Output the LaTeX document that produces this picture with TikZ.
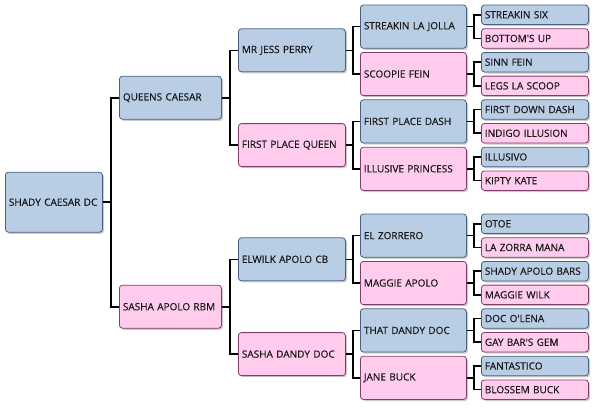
\documentclass[tikz,border=0pt]{standalone}
\usepackage{fontspec}
\setmainfont{Open Sans}
\newfontfamily\boxfont{Open Sans}[BoldFont={Open Sans},BoldFeatures={FakeBold=0.5}]
\usetikzlibrary{shadows}
\definecolor{bfill}{HTML}{B9CDE5}
\definecolor{bdraw}{HTML}{4A6080}
\definecolor{pfill}{HTML}{FFCCEE}
\definecolor{pdraw}{HTML}{7E3F6C}
\tikzset{
  box/.style={rounded corners=3pt, line width=0.8pt, inner xsep=3.5pt, inner ysep=0pt,
    align=left, font=\boxfont\bfseries\fontsize{10}{11}\selectfont, anchor=west, text=black!90,
    drop shadow={shadow xshift=1.6pt, shadow yshift=-1.6pt, fill=black!45, opacity=0.45}},
  bluebox/.style={box, fill=bfill, draw=bdraw},
  pinkbox/.style={box, fill=pfill, draw=pdraw},
  g1/.style={text width=90pt, minimum height=60pt},
  g2/.style={text width=95pt, minimum height=43pt},
  g3/.style={text width=100pt, minimum height=43pt},
  g4/.style={text width=99pt, minimum height=43.2pt},
  g5/.style={text width=100pt, minimum height=19.5pt},
  link/.style={line width=1.6pt, black, line join=miter}
}
\begin{document}
\begin{tikzpicture}[x=1pt,y=-1pt]
\useasboundingbox (0,0) rectangle (596,407);
% generation 1
\node[bluebox,g1] (a) at (5,202.2) {SHADY CAESAR DC};
% generation 2
\node[bluebox,g2] (b1) at (119,97.7) {QUEENS CAESAR};
\node[pinkbox,g2] (b2) at (119,306.7) {SASHA APOLO RBM};
% generation 3
\node[bluebox,g3] (c1) at (238,50.3) {MR JESS PERRY};
\node[pinkbox,g3] (c2) at (238,145.1) {FIRST PLACE QUEEN};
\node[bluebox,g3] (c3) at (238,259.3) {ELWILK APOLO CB};
\node[pinkbox,g3] (c4) at (238,354.1) {SASHA DANDY DOC};
% generation 4
\node[bluebox,g4] (d1) at (360,26.6) {STREAKIN LA JOLLA};
\node[pinkbox,g4] (d2) at (360,74.0) {SCOOPIE FEIN};
\node[bluebox,g4] (d3) at (360,121.4) {FIRST PLACE DASH};
\node[pinkbox,g4] (d4) at (360,168.8) {ILLUSIVE PRINCESS};
\node[bluebox,g4] (d5) at (360,235.6) {EL ZORRERO};
\node[pinkbox,g4] (d6) at (360,283.0) {MAGGIE APOLO};
\node[bluebox,g4] (d7) at (360,330.4) {THAT DANDY DOC};
\node[pinkbox,g4] (d8) at (360,377.8) {JANE BUCK};
% generation 5
\node[bluebox,g5] (e1) at (481,14.75) {STREAKIN SIX};
\node[pinkbox,g5] (e2) at (481,38.45) {BOTTOM'S UP};
\node[bluebox,g5] (e3) at (481,62.15) {SINN FEIN};
\node[pinkbox,g5] (e4) at (481,85.85) {LEGS LA SCOOP};
\node[bluebox,g5] (e5) at (481,109.55) {FIRST DOWN DASH};
\node[pinkbox,g5] (e6) at (481,133.25) {INDIGO ILLUSION};
\node[bluebox,g5] (e7) at (481,156.95) {ILLUSIVO};
\node[pinkbox,g5] (e8) at (481,180.65) {KIPTY KATE};
\node[bluebox,g5] (e9) at (481,223.75) {OTOE};
\node[pinkbox,g5] (e10) at (481,247.45) {LA ZORRA MANA};
\node[bluebox,g5] (e11) at (481,271.15) {SHADY APOLO BARS};
\node[pinkbox,g5] (e12) at (481,294.85) {MAGGIE WILK};
\node[bluebox,g5] (e13) at (481,318.55) {DOC O'LENA};
\node[pinkbox,g5] (e14) at (481,342.25) {GAY BAR'S GEM};
\node[bluebox,g5] (e15) at (481,365.95) {FANTASTICO};
\node[pinkbox,g5] (e16) at (481,389.65) {BLOSSEM BUCK};
% connectors
\foreach \p/\x/\u/\v in {a/8/b1/b2, b1/8/c1/c2, b2/8/c3/c4,
  c1/7/d1/d2, c2/7/d3/d4, c3/7/d5/d6, c4/7/d7/d8,
  d1/7/e1/e2, d2/7/e3/e4, d3/7/e5/e6, d4/7/e7/e8,
  d5/7/e9/e10, d6/7/e11/e12, d7/7/e13/e14, d8/7/e15/e16}{
  \draw[link] (\p.east) -- ++(\x,0) coordinate (m);
  \draw[link] (\u.west) -| (m) |- (\v.west);
}
\end{tikzpicture}
\end{document}
